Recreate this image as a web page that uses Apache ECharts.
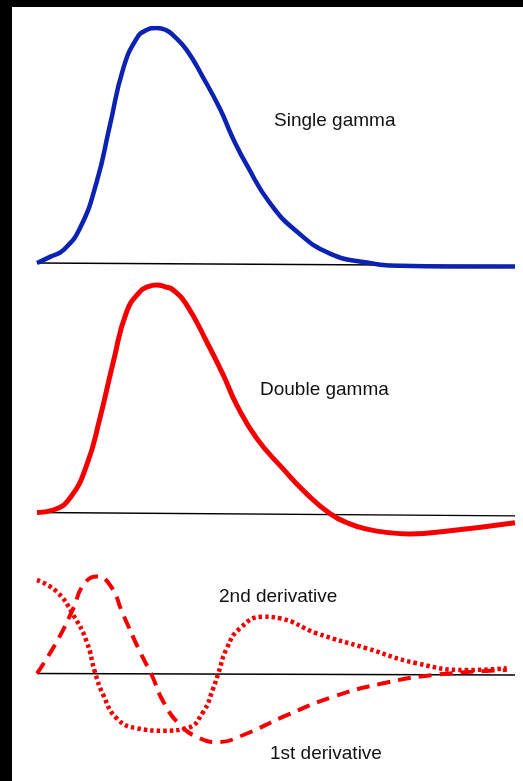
<!DOCTYPE html>
<html lang="en">
<head>
    <meta charset="UTF-8">
    <title>Gamma HRF</title>
    <script src="https://cdn.jsdelivr.net/npm/echarts@6/dist/echarts.min.js"></script>
    <style>
        html, body { margin: 0; padding: 0; background: #fff; }
        #chart { width: 523px; height: 781px; }
    </style>
</head>
<body>
<div id="chart"></div>
<script>
    // time (s) / amplitude
    var singleT = [0, 0.82, 1.65, 2.7, 3.75, 4.58, 5.42, 6.26, 6.84, 7.53, 8.1, 8.54, 9.41, 10.42, 11.49, 12.3, 13.18, 14.62, 16.32, 18.39, 20.71, 22.78, 25.92, 30]
    var singleV = [0, 0.026, 0.055, 0.149, 0.346, 0.587, 0.829, 0.956, 0.99, 1.0, 0.991, 0.97, 0.905, 0.79, 0.655, 0.53, 0.415, 0.255, 0.133, 0.04, 0.002, -0.012, -0.015, -0.015]

    var doubleT = [0, 1.02, 2.07, 3.12, 3.95, 4.79, 5.63, 6.46, 6.95, 7.51, 8.05, 8.55, 9.4, 10.65, 11.69, 12.54, 13.79, 15.46, 16.88, 18.39, 19.64, 20.71, 22.15, 23.39, 25.92, 30]
    var doubleV = [0, 0.011, 0.064, 0.208, 0.414, 0.661, 0.881, 0.969, 0.99, 0.998, 0.99, 0.976, 0.91, 0.749, 0.603, 0.471, 0.325, 0.19, 0.085, -0.005, -0.05, -0.073, -0.089, -0.094, -0.08, -0.045]

    var firstT = [0, 1.24, 2.28, 2.91, 3.75, 4.58, 5.42, 6.46, 7.2, 7.93, 8.98, 10.23, 11.36, 12.95, 15.46, 18.6, 21.73, 24.87, 29.48]
    var firstV = [0, 0.318, 0.652, 0.885, 0.97, 0.885, 0.585, 0.218, -0.015, -0.282, -0.515, -0.648, -0.685, -0.615, -0.432, -0.232, -0.098, -0.015, 0.035]

    var secondT = [0, 1.24, 2.28, 3.12, 3.64, 4.16, 5.0, 6.26, 7.93, 9.4, 10.44, 11.06, 11.38, 11.91, 12.74, 14.2, 15.25, 17.55, 20.69, 23.83, 26.97, 29.48]
    var secondV = [0.935, 0.818, 0.585, 0.318, 0.012, -0.215, -0.448, -0.548, -0.572, -0.548, -0.382, -0.148, 0.002, 0.252, 0.452, 0.568, 0.552, 0.402, 0.252, 0.102, 0.035, 0.052]

    // slightly tilted zero lines, as in the picture
    var baseT = [0, 30]
    var base1 = [0, -0.0115]
    var base2 = [0, -0.015]
    var base3 = [0, -0.015]

    function pairs(xs, ys) {
        var out = []
        for (var i = 0; i < xs.length; i++) {
            out.push([xs[i], ys[i]])
        }
        return out
    }

    var font = '"Liberation Sans", Arial, Helvetica, sans-serif'
    var red = '#f50000'

    function label(text, x, y) {
        return {
            type: 'text', left: x, top: y,
            style: { text: text, fill: '#111', font: '19px ' + font }
        }
    }

    function baseline(idx, data) {
        return {
            type: 'line', xAxisIndex: idx, yAxisIndex: idx, data: pairs(baseT, data),
            symbol: 'none', silent: true, z: 1,
            lineStyle: { color: '#000', width: 1.4 }
        }
    }

    function curve(name, idx, xs, ys, style) {
        return {
            name: name, type: 'line', xAxisIndex: idx, yAxisIndex: idx,
            data: pairs(xs, ys), smooth: 0.5,
            symbol: 'none', z: 3, lineStyle: style
        }
    }

    var chart = echarts.init(document.getElementById('chart'))
    var option = {
        backgroundColor: '#fff',
        animation: false,
        grid: [
            { left: 37, width: 478, top: 28, height: 282 },
            { left: 37, width: 478, top: 284.5, height: 273.6 },
            { left: 37, width: 478, top: 573.5, height: 200 }
        ],
        xAxis: [0, 1, 2].map(function (i) {
            return { type: 'value', gridIndex: i, min: 0, max: 30, show: false }
        }),
        yAxis: [
            { type: 'value', gridIndex: 0, min: -0.2, max: 1, show: false },
            { type: 'value', gridIndex: 1, min: -0.2, max: 1, show: false },
            { type: 'value', gridIndex: 2, min: -1, max: 1, show: false }
        ],
        graphic: [
            { type: 'rect', left: 0, top: 0, shape: { width: 523, height: 7 }, style: { fill: '#000' } },
            { type: 'rect', left: 0, top: 0, shape: { width: 12, height: 781 }, style: { fill: '#000' } },
            label('Single gamma', 274, 111),
            label('Double gamma', 260, 380),
            label('2nd derivative', 219, 587),
            label('1st derivative', 270, 744)
        ],
        series: [
            baseline(0, base1),
            baseline(1, base2),
            baseline(2, base3),
            curve('Single gamma', 0, singleT, singleV, { color: '#0b22b2', width: 4.5 }),
            curve('Double gamma', 1, doubleT, doubleV, { color: red, width: 5 }),
            curve('1st derivative', 2, firstT, firstV, { color: red, width: 4, type: [13, 8] }),
            curve('2nd derivative', 2, secondT, secondV, { color: red, width: 4.5, type: [3.5, 3] })
        ]
    }
    chart.setOption(option)
</script>
</body>
</html>
